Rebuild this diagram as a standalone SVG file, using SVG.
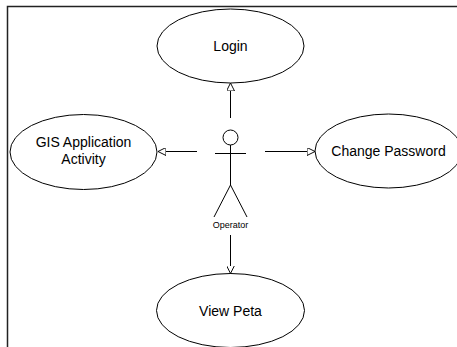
<svg xmlns="http://www.w3.org/2000/svg" width="457" height="347" viewBox="0 0 457 347">
<style>
.uc{fill:#fff;stroke:#000;stroke-width:1}
.t{font-family:"Liberation Sans",Arial,sans-serif;font-size:14px;fill:#000;text-anchor:middle}
.s{font-family:"Liberation Sans",Arial,sans-serif;font-size:9px;fill:#000;text-anchor:middle}
.ln{stroke:#000;stroke-width:1;fill:none}
</style>
<defs>
<marker id="tri" viewBox="0 0 10 10" refX="10" refY="5" markerWidth="8" markerHeight="8" markerUnits="userSpaceOnUse" orient="auto">
<path d="M0,0 L10,5 L0,10 Z" fill="#fff" stroke="#000" stroke-width="1.2"/>
</marker>
</defs>
<rect width="457" height="347" fill="#fff"/>
<path d="M7.5,347 V6.5 H457" fill="none" stroke="#222" stroke-width="1.5"/>
<g id="login"><ellipse class="uc" cx="230.5" cy="46" rx="73.5" ry="37"/><text class="t" x="230.5" y="51">Login</text></g>
<g id="gis"><ellipse class="uc" cx="83.5" cy="152" rx="73.5" ry="37.5"/><text class="t" x="83.5" y="147">GIS Application</text><text class="t" x="83.5" y="164">Activity</text></g>
<g id="change"><ellipse class="uc" cx="388.5" cy="151" rx="73.5" ry="37"/><text class="t" x="388.5" y="156">Change Password</text></g>
<g id="view"><ellipse class="uc" cx="230.5" cy="310.5" rx="74" ry="37"/><text class="t" x="230.5" y="316">View Peta</text></g>
<g id="operator">
<circle cx="230.5" cy="137.5" r="7.5" fill="#fff" stroke="#000"/>
<line class="ln" x1="215" y1="153.5" x2="246" y2="153.5"/>
<line class="ln" x1="230.5" y1="145" x2="230.5" y2="185"/>
<polyline class="ln" points="214,217 230.5,185 247,217"/>
<text class="s" x="230.5" y="228">Operator</text>
</g>
<g id="connectors">
<line class="ln" x1="230.5" y1="118" x2="230.5" y2="83" marker-end="url(#tri)"/>
<line class="ln" x1="197" y1="151.5" x2="158" y2="151.5" marker-end="url(#tri)"/>
<line class="ln" x1="265" y1="151.5" x2="315" y2="151.5" marker-end="url(#tri)"/>
<line class="ln" x1="230.5" y1="235" x2="230.5" y2="273.5" marker-end="url(#tri)"/>
</g>
</svg>
